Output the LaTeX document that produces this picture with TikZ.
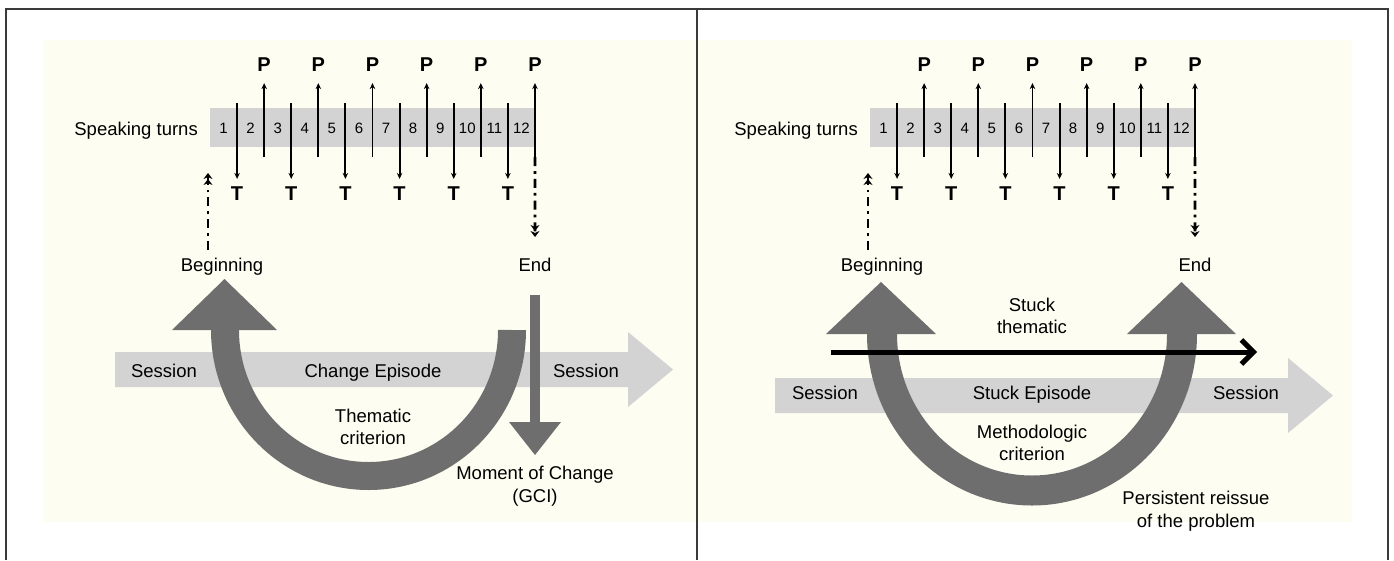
\documentclass[tikz,border=0pt]{standalone}
\usepackage{fontspec}
\setmainfont{Liberation Sans}
\usetikzlibrary{arrows.meta,calc}
\definecolor{creamBg}{HTML}{FDFDF1}
\definecolor{barGray}{HTML}{D3D3D3}
\definecolor{bendGray}{HTML}{6E6E6E}
\definecolor{frameGray}{HTML}{3A3A3A}
\newcommand{\lblfont}{\fontsize{18.5}{22.5}\selectfont}
\begin{document}
\begin{tikzpicture}[x=1pt,y=-1pt,>={Stealth[length=6pt,width=5.5pt]},
	lbl/.style={font=\lblfont, inner sep=0, align=center},
	num/.style={font=\fontsize{15}{15}\selectfont, inner sep=0},
	spk/.style={font=\fontsize{20}{20}\selectfont\bfseries, inner sep=0},
	turnbar/.style={fill=barGray, minimum width=325pt, minimum height=39pt, inner sep=0},
	turnarrow/.style={line width=1.9pt, ->},
	bounddash/.style={line width=2.8pt, dash pattern=on 9pt off 5pt on 2.8pt off 5pt,
		-{Stealth[length=6pt,width=9pt]Stealth[length=6pt,width=9pt]}},
	sessarrow/.style={fill=barGray},
	ushaft/.style={draw=bendGray, line width=#1},
	bendhead/.style={fill=bendGray},
	frameline/.style={draw=frameGray, line width=2.5pt}]
	\useasboundingbox (0,0) rectangle (1394,560);
	\fill[creamBg] (43,40) rectangle (1352,522);
	\draw[frameline] (6,560) -- (6,9) -- (1388,9) -- (1388,560);
	\draw[frameline] (697,9) -- (697,560);
	
	% speaking turns, both panels
	\foreach \o/\pn in {0/L,660/R}{
		\node[turnbar] (bar\pn) at (\o+372.5,127.5) {};
		\node[lbl, anchor=base east] (spk\pn) at (\o+198,135) {Speaking turns};
		\foreach \i in {1,...,12}{
			\node[num] (n\pn\i) at ({\o+210+27.08*(\i-0.5)},128) {\i};
			\pgfmathsetmacro{\dx}{\o+210+27.08*\i}
			\ifodd\i
				\node[spk] (t\pn\i) at (\dx,194) {T};
				\coordinate (ts\pn\i) at (\dx,103);
				\draw[turnarrow, shorten >=8pt] (ts\pn\i) -- (t\pn\i.north);
			\else
				\node[spk] (p\pn\i) at (\dx,65) {P};
				\coordinate (pb\pn\i) at (\dx,157);
				\draw[turnarrow, shorten >=11pt] (pb\pn\i) -- (p\pn\i.south);
			\fi
		}
		\node[lbl, anchor=base] (beg\pn) at (\o+222,271) {Beginning};
		\node[lbl, anchor=base] (end\pn) at (\o+535,271) {End};
		\coordinate (bs\pn) at (\o+208,250);
		\coordinate (bt\pn) at (\o+208,173);
		\coordinate (et\pn) at (\o+535,237);
		\draw[bounddash] (bs\pn) -- (bt\pn);
		\draw[bounddash] (pb\pn12) -- (et\pn);
	}
	
	% change episode
	\fill[sessarrow] (115,352) -- (628,352) -- (628,332) -- (673,369.5) -- (628,407) -- (628,387) -- (115,387) -- cycle;
	\draw[ushaft=28pt] (225,330) arc[start angle=180, end angle=0, x radius=143.5, y radius=146];
	\fill[bendhead] (172,330) -- (224.5,279) -- (277,330) -- cycle;
	\fill[bendhead] (530,295) rectangle (540,422);
	\fill[bendhead] (509,422) -- (561,422) -- (535,455) -- cycle;
	\node[lbl, anchor=base] (sesL1) at (164,377) {Session};
	\node[lbl, anchor=base] (epiL) at (373,377) {Change Episode};
	\node[lbl, anchor=base] (sesL2) at (586,377) {Session};
	\node[lbl] (critL) at (373,427) {Thematic\\criterion};
	\node[lbl] (gci) at (535,486) {Moment of Change\\(GCI)};
	
	% stuck episode
	\fill[sessarrow] (775,378) -- (1288,378) -- (1288,358) -- (1333,395.5) -- (1288,433) -- (1288,413) -- (775,413) -- cycle;
	\draw[ushaft=30pt] (882,334) arc[start angle=180, end angle=0, x radius=150, y radius=156.5];
	\fill[bendhead] (826,334) -- (881,282) -- (936,334) -- cycle;
	\fill[bendhead] (1127,334) -- (1181.5,282) -- (1236,334) -- cycle;
	\coordinate (thS) at (831,352);
	\coordinate (thE) at (1257,352);
	\draw[line width=5pt, -{Straight Barb[length=12pt,width=24pt]}] (thS) -- (thE);
	\node[lbl] (stuckT) at (1032,316) {Stuck\\thematic};
	\node[lbl, anchor=base] (sesR1) at (825,399) {Session};
	\node[lbl, anchor=base] (epiR) at (1032,399) {Stuck Episode};
	\node[lbl, anchor=base] (sesR2) at (1246,399) {Session};
	\node[lbl] (critR) at (1032,443) {Methodologic\\criterion};
	\node[lbl] (reiss) at (1196,511) {Persistent reissue\\of the problem};
\end{tikzpicture}
\end{document}
